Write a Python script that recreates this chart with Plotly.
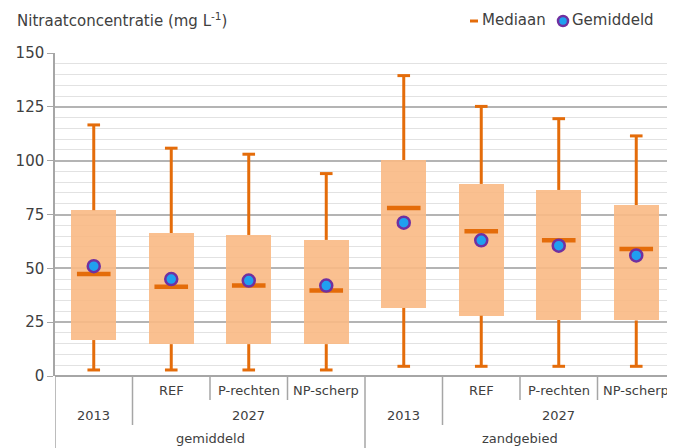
import plotly.graph_objects as go

# ---- data ----
sub_labels = ["", "REF", "P-rechten", "NP-scherp", "", "REF", "P-rechten", "NP-scherp"]
year_labels = ["2013", "2027", "2013", "2027"]
year_centers = [0, 2, 4, 6]
region_labels = ["gemiddeld", "zandgebied"]
region_centers = [1.5, 5.5]

whisk_min = [2.8, 2.8, 2.8, 2.8, 4.5, 4.5, 4.5, 4.5]
q1 = [16.7, 14.8, 14.8, 14.8, 31.6, 28.0, 26.0, 25.8]
median = [47.4, 41.5, 42.0, 39.7, 78.0, 67.2, 63.0, 59.0]
mean = [51.0, 45.0, 44.3, 42.0, 71.2, 63.0, 60.5, 56.0]
q3 = [77.0, 66.4, 65.5, 63.2, 100.3, 89.2, 86.4, 79.4]
whisk_max = [116.6, 105.8, 103.0, 94.0, 139.5, 125.2, 119.5, 111.5]

x = list(range(len(q1)))

ORANGE = "#e46c0a"
BOXFILL = "#f9b984"
BLUE = "#1fa0f0"
PURPLE = "#7030a0"
GRID_MAJ = "#b4b4b4"
GRID_MIN = "#e2e2e2"
TXT = "#404040"
FONT = "DejaVu Sans"

# page body has an 8px margin: figure is 667x440, plot area at page x 55..675, y 53..376
W, H = 667, 440
ML, MT, MB = 47, 45, 72
PW = W - ML
PH = H - MT - MB

def px(xp):  # page x -> paper x
    return (xp - 8 - ML) / PW

def py(yp):  # page y -> paper y
    return 1 - (yp - 8 - MT) / PH

fig = go.Figure()

# whiskers (lower and upper segments)
wx, wy = [], []
for i in x:
    wx += [i, i, None, i, i, None]
    wy += [whisk_min[i], q1[i], None, q3[i], whisk_max[i], None]
fig.add_trace(go.Scatter(x=wx, y=wy, mode="lines", line=dict(color=ORANGE, width=3),
                         showlegend=False, hoverinfo="skip"))

# boxes
fig.add_trace(go.Bar(x=x, y=[b - a for a, b in zip(q1, q3)], base=q1, width=0.58,
                     marker=dict(color=BOXFILL, opacity=0.9, line=dict(width=0)), showlegend=False))

# caps
fig.add_trace(go.Scatter(x=x + x, y=whisk_min + whisk_max, mode="markers",
                         marker=dict(symbol="line-ew", size=9, line=dict(color=ORANGE, width=3)),
                         showlegend=False, hoverinfo="skip"))

# median
fig.add_trace(go.Scatter(x=x, y=median, mode="markers", name="Mediaan", showlegend=False,
                         marker=dict(symbol="line-ew", size=24, line=dict(color=ORANGE, width=4.5))))
# mean
fig.add_trace(go.Scatter(x=x, y=mean, mode="markers", name="Gemiddeld", showlegend=False,
                         marker=dict(symbol="circle", size=12, color=BLUE,
                                     line=dict(color=PURPLE, width=2.5))))

# category labels (three levels)
ann = []
lab_font = dict(size=13, color=TXT, family=FONT)
for i, t in enumerate(sub_labels):
    if t:
        ann.append(dict(x=i, y=py(390), xref="x", yref="paper", text=t, showarrow=False,
                        font=lab_font, yanchor="middle"))
for c, t in zip(year_centers, year_labels):
    ann.append(dict(x=c, y=py(415), xref="x", yref="paper", text=t, showarrow=False,
                    font=lab_font, yanchor="middle"))
for c, t in zip(region_centers, region_labels):
    ann.append(dict(x=c, y=py(438), xref="x", yref="paper", text=t, showarrow=False,
                    font=lab_font, yanchor="middle"))
ann.append(dict(x=px(15), y=py(20), xref="paper", yref="paper", xanchor="left", yanchor="middle",
                text="Nitraatconcentratie (mg L<sup>-1</sup>)", showarrow=False,
                font=dict(size=15, color=TXT, family=FONT)))
# legend texts
ann.append(dict(x=px(480), y=py(20), xref="paper", yref="paper", xanchor="left", yanchor="middle",
                text="Mediaan", showarrow=False, font=dict(size=15, color=TXT, family=FONT)))
ann.append(dict(x=px(570), y=py(20), xref="paper", yref="paper", xanchor="left", yanchor="middle",
                text="Gemiddeld", showarrow=False, font=dict(size=15, color=TXT, family=FONT)))

shapes = []
def vline(xv, yp):
    shapes.append(dict(type="line", xref="x", yref="paper", x0=xv, x1=xv, y0=0, y1=py(yp),
                       line=dict(color="#a6a6a6", width=1.5)))
for xv in [1.5, 2.5, 5.5, 6.5]:
    vline(xv, 400)
for xv in [0.5, 4.5]:
    vline(xv, 425)
for xv in [-0.5, 3.5]:
    vline(xv, 460)

# legend symbols
shapes.append(dict(type="line", xref="paper", yref="paper", xsizemode="pixel", ysizemode="pixel",
                   xanchor=px(474), yanchor=py(21), x0=-4, x1=4, y0=0, y1=0,
                   line=dict(color=ORANGE, width=3)))
shapes.append(dict(type="circle", xref="paper", yref="paper", xsizemode="pixel", ysizemode="pixel",
                   xanchor=px(563), yanchor=py(21), x0=-5, x1=5, y0=-5, y1=5,
                   fillcolor=BLUE, line=dict(color=PURPLE, width=2.5)))

fig.update_layout(
    width=W, height=H,
    margin=dict(l=ML, r=0, t=MT, b=MB, autoexpand=False),
    paper_bgcolor="white", plot_bgcolor="white",
    font=dict(family=FONT, color=TXT),
    bargap=0, showlegend=False,
    annotations=ann, shapes=shapes,
    xaxis=dict(range=[-0.5, 7.5], showticklabels=False, showgrid=False, zeroline=False,
               showline=False, fixedrange=True),
    yaxis=dict(range=[0, 150], dtick=25, showgrid=True, gridcolor=GRID_MAJ, gridwidth=1.5,
               zeroline=True, zerolinecolor="#a6a6a6", zerolinewidth=1.5,
               showline=True, linecolor="#a6a6a6", linewidth=1.5,
               ticks="outside", ticklen=6, tickcolor="#a6a6a6",
               tickfont=dict(size=15, color=TXT, family=FONT),
               minor=dict(dtick=5, showgrid=True, gridcolor=GRID_MIN, gridwidth=1)),
)

fig.write_html("out.html")
